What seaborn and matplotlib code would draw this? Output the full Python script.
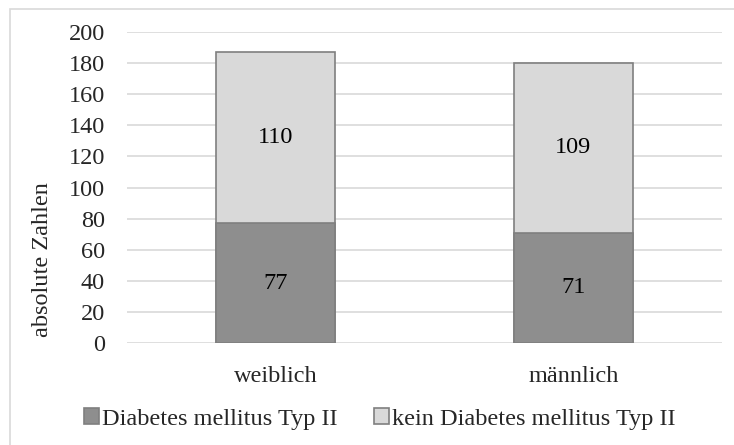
import matplotlib
matplotlib.use("Agg")
import matplotlib.pyplot as plt
from matplotlib.patches import Rectangle, Patch
import seaborn as sns
import pandas as pd

categories = ["weiblich", "männlich"]
diabetes = [77, 71]
kein_diabetes = [110, 109]
series_names = ["Diabetes mellitus Typ II", "kein Diabetes mellitus Typ II"]
y_ticks = [0, 20, 40, 60, 80, 100, 120, 140, 160, 180, 200]

sns.set_theme(style="white")
plt.rcParams["font.family"] = ["Liberation Serif", "DejaVu Serif"]
FS = 17.5

totals = [d + k for d, k in zip(diabetes, kein_diabetes)]
df = pd.DataFrame({"Geschlecht": categories, "Diabetes": diabetes,
                   "Kein": kein_diabetes, "Total": totals})

fig = plt.figure(figsize=(7.34, 4.45), dpi=100)
ax = fig.add_axes([127 / 734, 1 - 343 / 445, 595 / 734, 311 / 445])

dark = "#8e8e8e"
light = "#d9d9d9"
edge = "#7f7f7f"

sns.barplot(data=df, x="Geschlecht", y="Total", color=light, width=0.40,
            edgecolor=edge, linewidth=1.2, saturation=1, ax=ax, zorder=3)
sns.barplot(data=df, x="Geschlecht", y="Diabetes", color=dark, width=0.40,
            edgecolor=edge, linewidth=1.2, saturation=1, ax=ax, zorder=4)

for i, (d, k) in enumerate(zip(diabetes, kein_diabetes)):
    ax.text(i, d / 2, str(d), ha="center", va="center", fontsize=FS,
            color="black", zorder=5)
    ax.text(i, d + k / 2, str(k), ha="center", va="center", fontsize=FS,
            color="black", zorder=5)

ax.set_xlim(-0.5, 1.5)
ax.set_ylim(0, 200)
ax.set_yticks(y_ticks)
ax.set_yticklabels([str(t) for t in y_ticks], fontsize=FS)
ax.tick_params(axis="y", length=0, pad=16)
ax.tick_params(axis="x", length=0, labelsize=FS, pad=16.5)
ax.set_xlabel("")
ax.set_ylabel("absolute Zahlen", fontsize=FS)
ax.yaxis.set_label_coords(-0.124, 0.267)
ax.grid(axis="y", color="#d9d9d9", linewidth=1.2, zorder=0)
ax.set_axisbelow(True)
for s in ax.spines.values():
    s.set_visible(False)

handles = [Patch(facecolor=dark, edgecolor=edge, linewidth=1.2),
           Patch(facecolor=light, edgecolor=edge, linewidth=1.2)]
fig.legend(handles, series_names, loc="center", bbox_to_anchor=(380 / 734, 1 - 419 / 445),
           ncol=2, frameon=False, fontsize=FS, handlelength=0.6, handleheight=0.6,
           handletextpad=0.15, columnspacing=1.5)

fig.patches.append(Rectangle((10 / 734, -0.1), 2.0, 1 - 9 / 445 + 0.1,
                             transform=fig.transFigure, fill=False,
                             edgecolor="#d9d9d9", linewidth=1.2))

fig.savefig("out.png", dpi=100)
